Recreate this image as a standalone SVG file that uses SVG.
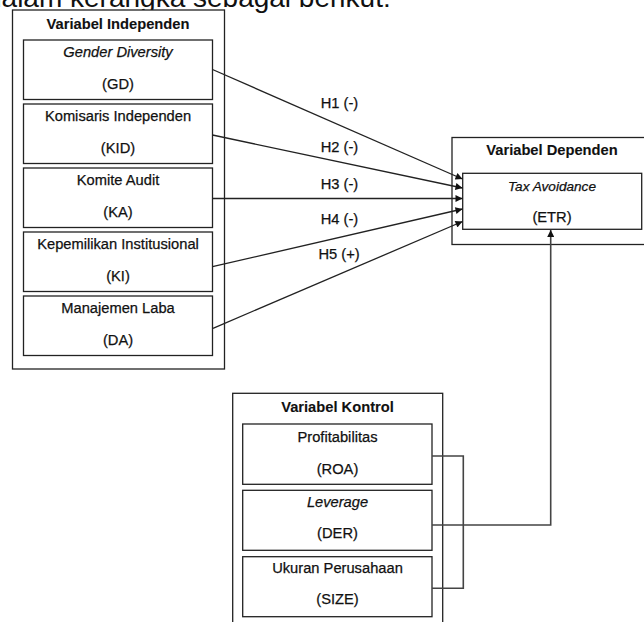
<svg xmlns="http://www.w3.org/2000/svg" width="644" height="622" viewBox="0 0 644 622">
  <defs>
    <marker id="arrow" viewBox="0 0 10 10" refX="10" refY="5" markerWidth="8" markerHeight="7" markerUnits="userSpaceOnUse" orient="auto">
      <path d="M0,0 L10,5 L0,10 z" fill="#111"/>
    </marker>
    <style>
      .frame { fill: #fff; stroke: #222; stroke-width: 1.3; }
      .box { fill: #fff; stroke: #222; stroke-width: 1.3; }
      .t { font-family: "Liberation Sans", Arial, sans-serif; font-size: 14.7px; fill: #111; stroke: #111; stroke-width: 0.25; text-anchor: middle; }
      .b { font-weight: bold; stroke-width: 0.1; }
      .i { font-style: italic; }
      .link { fill: none; stroke: #222; stroke-width: 1.3; }
      .ctrl { fill: none; stroke: #444; stroke-width: 1.6; }
      .lead { font-family: "Liberation Sans", Arial, sans-serif; font-size: 28px; fill: #111; }
    </style>
  </defs>
  <rect width="644" height="622" fill="#fff"/>

  <!-- running text from the preceding paragraph -->
  <text class="lead" x="-14" y="7">dalam kerangka sebagai berikut:</text>

  <!-- independent variables -->
  <g id="independen">
    <rect class="frame" x="12.5" y="10" width="212" height="359"/>
    <text class="t b" x="118" y="29">Variabel Independen</text>
  </g>
  <g id="gd">
    <rect class="box" x="23.5" y="40" width="189" height="59.5"/>
    <text class="t i" x="118" y="57">Gender Diversity</text>
    <text class="t" x="118" y="89">(GD)</text>
  </g>
  <g id="kid">
    <rect class="box" x="23.5" y="104" width="189" height="59.5"/>
    <text class="t" x="118" y="121">Komisaris Independen</text>
    <text class="t" x="118" y="153">(KID)</text>
  </g>
  <g id="ka">
    <rect class="box" x="23.5" y="168" width="189" height="59.5"/>
    <text class="t" x="118" y="185">Komite Audit</text>
    <text class="t" x="118" y="217">(KA)</text>
  </g>
  <g id="ki">
    <rect class="box" x="23.5" y="232" width="189" height="59.5"/>
    <text class="t" x="118" y="249">Kepemilikan Institusional</text>
    <text class="t" x="118" y="281">(KI)</text>
  </g>
  <g id="da">
    <rect class="box" x="23.5" y="296" width="189" height="59.5"/>
    <text class="t" x="118" y="313">Manajemen Laba</text>
    <text class="t" x="118" y="345">(DA)</text>
  </g>

  <!-- dependent variable -->
  <g id="dependen">
    <rect class="frame" x="452" y="137.5" width="200" height="107"/>
    <text class="t b" x="552" y="155">Variabel Dependen</text>
  </g>
  <g id="etr">
    <rect class="box" x="462.7" y="173.3" width="179" height="56"/>
    <text class="t i" x="552" y="191" style="font-size:13.6px">Tax Avoidance</text>
    <text class="t" x="552" y="222">(ETR)</text>
  </g>

  <!-- control variables -->
  <g id="kontrol">
    <rect class="frame" x="232.7" y="393.3" width="210" height="240"/>
    <text class="t b" x="337.5" y="411.5">Variabel Kontrol</text>
  </g>
  <g id="roa">
    <rect class="box" x="242.7" y="424" width="189.3" height="60.3"/>
    <text class="t" x="337.5" y="441.7">Profitabilitas</text>
    <text class="t" x="337.5" y="474">(ROA)</text>
  </g>
  <g id="der">
    <rect class="box" x="242.7" y="490.3" width="189.3" height="60"/>
    <text class="t i" x="337.5" y="507.3">Leverage</text>
    <text class="t" x="337.5" y="538.3">(DER)</text>
  </g>
  <g id="size">
    <rect class="box" x="242.7" y="556.7" width="189.3" height="60"/>
    <text class="t" x="337.5" y="573.3">Ukuran Perusahaan</text>
    <text class="t" x="337.5" y="604">(SIZE)</text>
  </g>

  <!-- connectors -->
  <g id="connectors">
    <line class="link" x1="212.5" y1="69.5" x2="462.5" y2="179" marker-end="url(#arrow)"/>
    <line class="link" x1="212.5" y1="135" x2="462.5" y2="188" marker-end="url(#arrow)"/>
    <line class="link" x1="212.5" y1="198.5" x2="462.5" y2="198.5" marker-end="url(#arrow)"/>
    <line class="link" x1="212.5" y1="266.7" x2="462.5" y2="209" marker-end="url(#arrow)"/>
    <line class="link" x1="213" y1="328.3" x2="462.5" y2="221.5" marker-end="url(#arrow)"/>
    <path class="ctrl" d="M432,456 H463.3 V588.3 H432"/>
    <path class="ctrl" d="M432,525 H550.7 V230" marker-end="url(#arrow)"/>
  </g>

  <!-- hypothesis labels -->
  <g id="labels">
    <text class="t" x="339.5" y="108.3">H1 (-)</text>
    <text class="t" x="339.5" y="152.3">H2 (-)</text>
    <text class="t" x="339.5" y="189.3">H3 (-)</text>
    <text class="t" x="339.5" y="224">H4 (-)</text>
    <text class="t" x="339" y="259.3">H5 (+)</text>
  </g>
</svg>
